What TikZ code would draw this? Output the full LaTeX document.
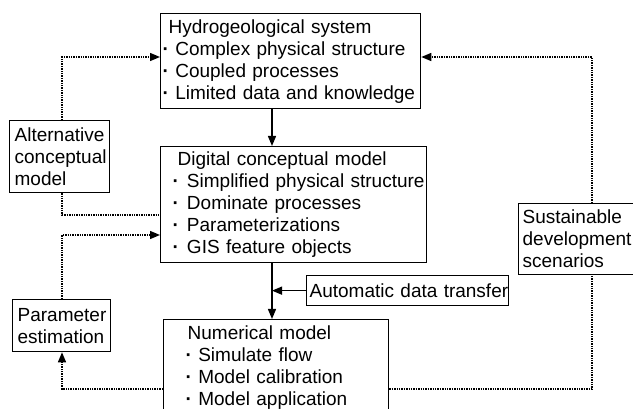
\documentclass[tikz,border=0pt]{standalone}
\usepackage{fontspec}
\setmainfont{Liberation Sans}
\usetikzlibrary{arrows.meta}
\newcommand{\bdot}{{\bfseries·}}
\begin{document}
\begin{tikzpicture}[x=1pt,y=-1pt,
  box/.style={draw, line width=1.3pt, anchor=north west, inner ysep=0pt, align=left,
    font=\fontsize{19}{22}\selectfont},
  solidarrow/.style={line width=1.3pt, -{Triangle[length=10pt,width=8pt]}},
  dotarrow/.style={line width=1.4pt, densely dotted, -{Triangle[length=10pt,width=8pt]}},
  dotline/.style={line width=1.4pt, densely dotted}]
\useasboundingbox (0,0) rectangle (633,409);
\node[box, minimum width=260, minimum height=95, text width=256, inner xsep=2pt] (hydro) at (160,13)
  {\mbox{\hspace*{6pt}Hydrogeological system}\\\mbox{\bdot\ Complex physical structure}\\\mbox{\bdot\ Coupled processes}\\\mbox{\bdot\ Limited data and knowledge}};
\node[box, minimum width=266, minimum height=116, text width=242, inner xsep=12pt] (digital) at (160,146)
  {\mbox{\hspace*{5pt}Digital conceptual model}\\\mbox{\bdot\hspace{8pt}Simplified physical structure}\\\mbox{\bdot\hspace{8pt}Dominate processes}\\\mbox{\bdot\hspace{8pt}Parameterizations}\\\mbox{\bdot\hspace{8pt}GIS feature objects}};
\node[box, minimum width=225, minimum height=96, text width=207, inner xsep=9pt] (num) at (163,319)
  {\mbox{\hspace*{15pt}Numerical model}\\\mbox{\hspace*{13pt}\bdot\ Simulate flow}\\\mbox{\hspace*{13pt}\bdot\ Model calibration}\\\mbox{\hspace*{13pt}\bdot\ Model application}};
\node[box, minimum width=100, minimum height=72, text width=96, inner xsep=2pt] (alt) at (9,120)
  {\mbox{\hspace*{3pt}Alternative}\\\mbox{\hspace*{3pt}conceptual}\\\mbox{\hspace*{3pt}model}};
\node[box, minimum width=98, minimum height=52, text width=92, inner xsep=3pt] (param) at (12,299)
  {\mbox{\hspace*{2pt}Parameter}\\\mbox{\hspace*{2pt}estimation}};
\node[box, minimum width=202, minimum height=30, text width=198, inner xsep=2pt] (auto) at (306,275)
  {\mbox{\hspace*{1pt}Automatic data transfer}};
\node[box, minimum width=117, minimum height=71, text width=113, inner xsep=2pt] (sust) at (518,203)
  {\mbox{\hspace*{2pt}Sustainable}\\\mbox{\hspace*{2pt}development}\\\mbox{\hspace*{2pt}scenarios}};
\coordinate (mid) at (272,0);
\coordinate (lx) at (62,0);
\coordinate (rx) at (592,0);
\coordinate (ya) at (0,57);
\coordinate (yb) at (0,215);
\coordinate (yc) at (0,235);
\coordinate (yd) at (0,389);
\draw[solidarrow] (hydro.south -| mid) -- (digital.north -| mid);
\draw[solidarrow] (digital.south -| mid) -- (num.north -| mid);
\draw[solidarrow] (auto.west) -- (mid |- auto.west);
\draw[dotarrow] (alt.north -| lx) |- (hydro.west |- ya);
\draw[dotline] (alt.south -| lx) |- (digital.west |- yb);
\draw[dotarrow] (param.north -| lx) |- (digital.west |- yc);
\draw[dotarrow] (num.west |- yd) -| (param.south -| lx);
\draw[dotline] (num.east |- yd) -| (sust.south -| rx);
\draw[dotarrow] (sust.north -| rx) |- (hydro.east |- ya);
\end{tikzpicture}
\end{document}
